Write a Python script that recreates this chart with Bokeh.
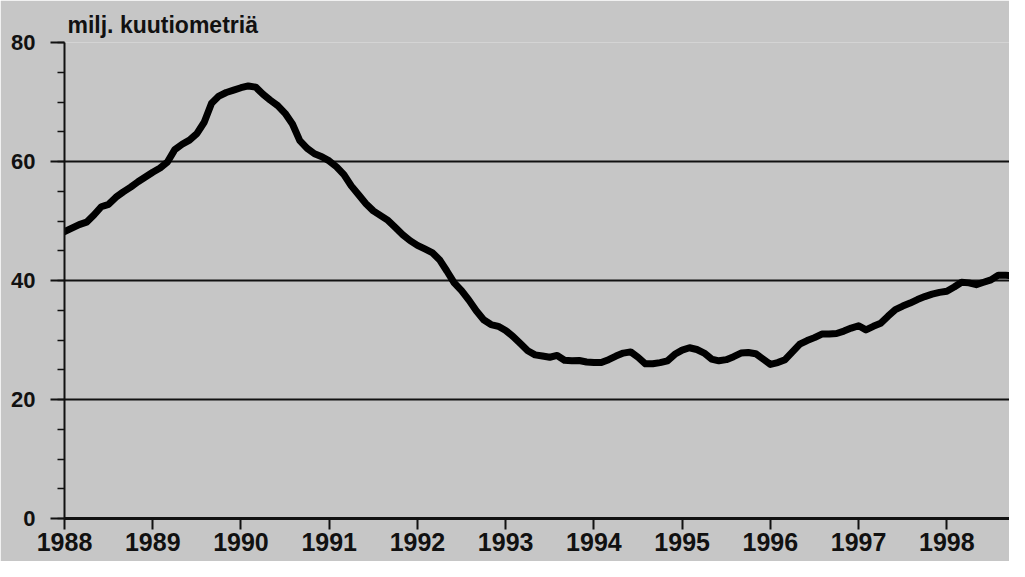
from bokeh.plotting import figure
from bokeh.models import FixedTicker, Range1d
from bokeh.embed import file_html
from bokeh.resources import INLINE

# Tick positions / labels
year_ticks = list(range(1988, 1999))
year_labels = {y: str(y) for y in year_ticks}
y_ticks = [0, 20, 40, 60, 80]

# Monthly values (million cubic metres), Jan 1988 onward
values = [
    48.2, 48.8, 49.4, 49.8, 51.0, 52.4, 52.8, 54.0, 54.9, 55.7, 56.6, 57.4,   # 1988
    58.2, 58.9, 59.9, 62.0, 62.9, 63.6, 64.7, 66.6, 69.8, 71.0, 71.6, 72.0,   # 1989
    72.4, 72.7, 72.5, 71.3, 70.3, 69.4, 68.1, 66.3, 63.5, 62.2, 61.3, 60.8,   # 1990
    60.1, 59.1, 57.8, 55.9, 54.4, 52.9, 51.7, 50.9, 50.1, 48.9, 47.7, 46.7,   # 1991
    45.9, 45.3, 44.7, 43.5, 41.6, 39.6, 38.3, 36.7, 34.9, 33.4, 32.6, 32.3,   # 1992
    31.6, 30.6, 29.4, 28.2, 27.5, 27.3, 27.1, 27.4, 26.6, 26.5, 26.55, 26.3,  # 1993
    26.2, 26.2, 26.7, 27.3, 27.8, 28.0, 27.1, 26.0, 26.0, 26.2, 26.5, 27.6,   # 1994
    28.3, 28.7, 28.4, 27.8, 26.8, 26.5, 26.7, 27.2, 27.8, 27.9, 27.7, 26.8,   # 1995
    25.9, 26.2, 26.7, 28.0, 29.3, 29.9, 30.4, 31.0, 31.0, 31.1, 31.5, 32.0,   # 1996
    32.4, 31.7, 32.3, 32.8, 34.0, 35.1, 35.7, 36.2, 36.8, 37.3, 37.7, 38.0,   # 1997
    38.2, 38.9, 39.7, 39.6, 39.3, 39.7, 40.1, 40.9, 40.9, 40.8,               # 1998
]
start_year = 1988
time = [start_year + i / 12 for i in range(len(values))]

title_text = "milj. kuutiometriä"

BG = "#c6c6c6"
INK = "#111111"
FONT = "Liberation Sans"

p = figure(
    width=1009, height=561,
    output_backend="svg", toolbar_location=None,
    x_range=Range1d(1988, 1998.71), y_range=Range1d(0, 80),
    min_border=0, min_border_left=64, min_border_right=0,
    min_border_top=42, min_border_bottom=43,
    background_fill_color=BG, border_fill_color=BG,
    title=title_text,
)
p.outline_line_color = None

# Title
p.title.text_font = FONT
p.title.text_font_size = "23px"
p.title.text_font_style = "bold"
p.title.text_color = INK
p.title.align = "left"
p.title.offset = 3
p.title.standoff = 10

# Line
p.line(time, values, line_color="black", line_width=7, line_join="round", line_cap="round")

# X axis
xa = p.xaxis[0]
xa.ticker = FixedTicker(ticks=year_ticks)
xa.major_label_overrides = year_labels
xa.axis_line_width = 3
xa.axis_line_color = INK
xa.major_tick_line_width = 2
xa.major_tick_line_color = INK
xa.major_tick_in = 0
xa.major_tick_out = 11
xa.minor_tick_line_color = None
xa.major_label_text_font = FONT
xa.major_label_text_font_size = "25px"
xa.major_label_text_font_style = "bold"
xa.major_label_text_color = INK
xa.major_label_standoff = 3

# Y axis
ya = p.yaxis[0]
ya.ticker = FixedTicker(ticks=y_ticks, minor_ticks=list(range(0, 81, 5)))
ya.axis_line_width = 2
ya.axis_line_color = INK
ya.major_tick_line_width = 2
ya.major_tick_line_color = INK
ya.major_tick_in = 0
ya.major_tick_out = 14
ya.minor_tick_line_width = 1.5
ya.minor_tick_line_color = INK
ya.minor_tick_in = 0
ya.minor_tick_out = 7
ya.major_label_text_font = FONT
ya.major_label_text_font_size = "22px"
ya.major_label_text_font_style = "bold"
ya.major_label_text_color = INK
ya.major_label_standoff = 15

# Grid
p.xgrid.grid_line_color = None
p.ygrid.ticker = FixedTicker(ticks=y_ticks)
p.ygrid.grid_line_color = INK
p.ygrid.grid_line_width = 2

open("out.html", "w").write(file_html(p, INLINE))
